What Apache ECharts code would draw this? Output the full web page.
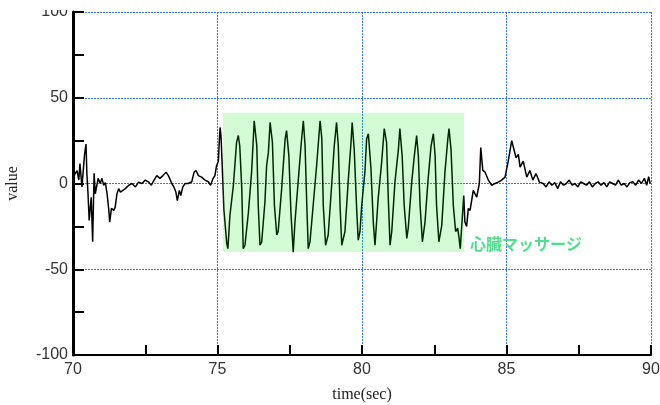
<!DOCTYPE html>
<html>
<head>
<meta charset="utf-8">
<script src="https://cdn.jsdelivr.net/npm/echarts@6/dist/echarts.min.js"></script>
<style>html,body{margin:0;padding:0;background:#fff;}#c{width:660px;height:405px;}</style>
</head>
<body>
<div id="c"></div>
<script>
var times = [70.00,70.08,70.14,70.20,70.24,70.31,70.40,70.45,70.48,70.52,70.56,70.63,70.68,70.73,70.77,70.87,70.94,71.00,71.06,71.12,71.18,71.24,71.27,71.33,71.41,71.46,71.52,71.58,71.64,71.70,71.81,71.93,72.04,72.16,72.27,72.39,72.50,72.62,72.71,72.77,72.90,73.01,73.11,73.22,73.30,73.42,73.49,73.56,73.61,73.68,73.73,73.80,73.88,73.99,74.11,74.19,74.26,74.34,74.45,74.57,74.68,74.76,74.85,74.91,74.97,75.03,75.06,75.09,75.12,75.16,75.22,75.32,75.36,75.43,75.55,75.66,75.72,75.77,75.84,75.89,75.95,76.07,76.18,76.27,76.36,76.41,76.47,76.53,76.64,76.70,76.76,76.82,76.90,76.97,77.05,77.10,77.22,77.34,77.39,77.47,77.54,77.62,77.68,77.80,77.89,77.97,78.03,78.09,78.14,78.20,78.31,78.43,78.55,78.61,78.66,78.74,78.83,78.95,79.04,79.12,79.18,79.24,79.30,79.41,79.53,79.62,79.66,79.73,79.82,79.87,79.93,79.99,80.10,80.16,80.22,80.31,80.39,80.45,80.56,80.68,80.77,80.85,80.91,80.97,81.03,81.14,81.26,81.31,81.39,81.46,81.55,81.60,81.72,81.81,81.89,81.95,82.01,82.09,82.18,82.29,82.39,82.47,82.53,82.58,82.66,82.76,82.87,82.97,83.01,83.08,83.16,83.24,83.31,83.36,83.40,83.47,83.52,83.56,83.62,83.68,83.74,83.85,83.97,84.06,84.11,84.18,84.26,84.37,84.49,84.60,84.72,84.83,84.95,85.06,85.18,85.24,85.33,85.41,85.47,85.58,85.70,85.81,85.91,86.02,86.14,86.27,86.37,86.47,86.57,86.67,86.77,86.87,86.97,87.07,87.17,87.27,87.37,87.47,87.57,87.67,87.77,87.87,87.97,88.07,88.17,88.27,88.37,88.47,88.57,88.67,88.77,88.87,88.97,89.07,89.17,89.27,89.37,89.47,89.57,89.67,89.77,89.85,89.92,89.97];
var values = [3,6,7.5,2,11.6,-2,17,23,6,-6,-21.5,-8,-34,6,-6,3,0,3,-1,0.5,-6,-15.7,-22.5,-14.5,-15.7,-13.8,-6,-3,-5,-4,-3,-1,0,-2,0.8,0,2,0.8,-1,1,4.6,3,4.6,6.6,4.6,0,-2,-5,-10,-4,-7,-2,0,0,1,6.6,7.6,4.6,3.7,2,1,-1,3,4.6,10.5,13,24,32.7,28,12,-15,-35,-38,-18.6,-1,24,28,22,-3,-38,-36,-16.7,6.6,36.6,22,-12.8,-36,-34,-10.9,10.5,18,35.6,24,-12.8,-30,-28,-3,26,30.8,16,-16.7,-40,-22.5,3,22,36.6,22,-12.8,-38,-34,-12.8,10.5,36.6,26,-12.8,-36,-30,-1,22,35.6,22,-12.8,-36,-28,3,24,35.6,20,-16.7,-33,-28,-12.8,6.6,26,29,8.7,-22.5,-36,-8.7,12.4,32,24,-8.7,-36,-28,0.8,20,32,16,-12.8,-32,-26,0.8,16,28,16,-12.8,-34,-22.5,3,22,29,16,-12.8,-34,-24.4,6.6,26,32,20,-12.8,-28,-26,-32,-38,-20,-7,-22.5,-25,-14.5,-15.7,-4,-8,0,21,7.6,6.6,2,-1,0,0.8,2,3.7,13,25,24,15,17,9.5,13,3.7,7.6,2,5.8,0.8,0,-2,1,-1,0.5,-3,1,-1,0,2,-1,0,-2,1,0,-1,1,-2,0,1,-1,0.5,-2,1,0,-1,2,-1,0,-2,0.5,1,-1,2,0,3,-1,4,0];
var xTicks = [70, 75, 80, 85, 90];
var yTicks = [-100, -50, 0, 50, 100];
var boxTime = [75.19, 83.53];
var boxValue = [-40, 41.3];
var noteText = '心臓マッサージ';
var notePos = [83.74, -35];

var lineData = times.map(function (t, i) { return [t, values[i]]; });
var gridDash = {color: '#2f78ff', width: 1, type: [2, 1]};

var chart = echarts.init(document.getElementById('c'), null, {renderer: 'canvas'});
chart.setOption({
  animation: false,
  backgroundColor: '#fff',
  grid: {left: 73, right: 9, top: 12, bottom: 50, containLabel: false, outerBoundsMode: 'none'},
  graphic: [{type: 'rect', left: 0, top: 0, z: 100, shape: {width: 71, height: 10}, style: {fill: '#fff'}, silent: true}],
  xAxis: {
    type: 'value', min: xTicks[0], max: xTicks[xTicks.length - 1], interval: 5,
    name: 'time(sec)', nameLocation: 'middle', nameGap: 32,
    nameTextStyle: {fontFamily: 'Liberation Serif', fontSize: 16, color: '#222'},
    axisLine: {show: true, onZero: false, lineStyle: {color: '#000', width: 2}},
    axisTick: {show: true, inside: true, length: 10, lineStyle: {color: '#000', width: 2}},
    minorTick: {show: true, splitNumber: 2, length: 10, lineStyle: {color: '#000', width: 2}},
    axisLabel: {margin: 7, fontFamily: 'Liberation Sans', fontSize: 16, color: '#333'},
    splitLine: {show: true, lineStyle: gridDash}
  },
  yAxis: {
    type: 'value', min: yTicks[0], max: yTicks[yTicks.length - 1], interval: 50,
    name: 'value', nameLocation: 'middle', nameGap: 52, nameRotate: 90,
    nameTextStyle: {fontFamily: 'Liberation Serif', fontSize: 16, color: '#222'},
    axisLine: {show: true, onZero: false, lineStyle: {color: '#000', width: 3}},
    axisTick: {show: true, inside: true, length: 11, lineStyle: {color: '#000', width: 2}},
    minorTick: {show: true, splitNumber: 2, length: 11, lineStyle: {color: '#000', width: 2}},
    axisLabel: {margin: 5, fontFamily: 'Liberation Sans', fontSize: 16, color: '#333'},
    splitLine: {show: true, lineStyle: gridDash}
  },
  series: [
    {
      type: 'line', data: lineData, showSymbol: false, symbol: 'none',
      sampling: null, z: 2, silent: true,
      lineStyle: {color: '#000', width: 1.5}
    },
    {
      type: 'custom', z: 5, silent: true,
      data: [[boxTime[0], boxValue[0], boxTime[1], boxValue[1]]],
      encode: {x: [0, 2], y: [1, 3]},
      renderItem: function (params, api) {
        var p0 = api.coord([boxTime[0], boxValue[1]]);
        var p1 = api.coord([boxTime[1], boxValue[0]]);
        var tp = api.coord(notePos);
        return {
          type: 'group',
          children: [
            {type: 'rect', shape: {x: p0[0], y: p0[1], width: p1[0] - p0[0], height: p1[1] - p0[1]},
             style: {fill: 'rgba(0,235,0,0.17)'}},
            {type: 'text', x: tp[0], y: tp[1],
             style: {text: noteText, fill: '#4fe08f', font: 'bold 16px "Noto Sans CJK JP"', textVerticalAlign: 'middle', textAlign: 'left'}}
          ]
        };
      }
    }
  ]
});
</script>
</body>
</html>
